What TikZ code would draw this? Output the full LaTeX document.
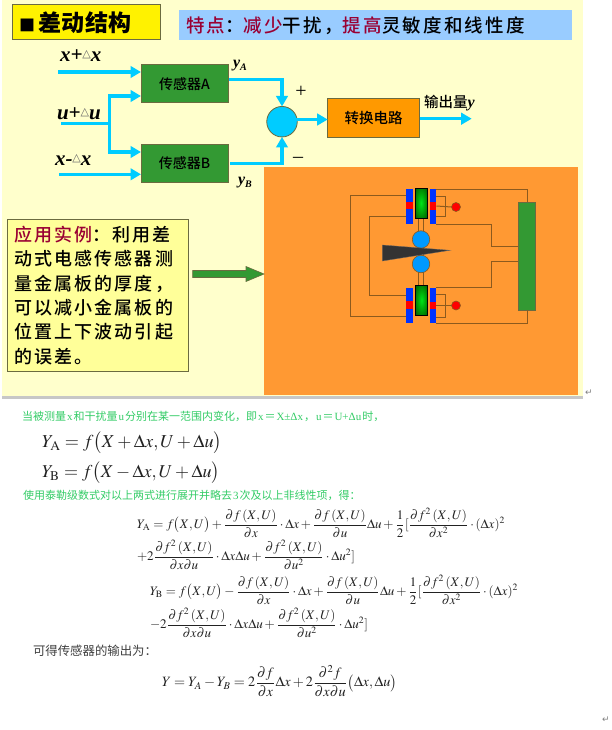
\documentclass[tikz,border=0pt]{standalone}
\usepackage{amsmath}
\usepackage{graphicx}
\usepackage{mathptmx}
\usepackage[no-math]{fontspec}
\usetikzlibrary{arrows.meta,calc}
\newfontfamily\cjk{Noto Sans CJK SC}
\newfontfamily\cjksp[LetterSpace=12]{Noto Sans CJK SC Medium}
\newfontfamily\cjkm{Noto Sans CJK SC Medium}
\newfontfamily\dejavu{DejaVu Sans}
\newfontfamily\lserif{Liberation Serif}
\newcommand{\fs}[1]{\fontsize{#1}{#1}\selectfont}
\newcommand{\fwcomma}{^^^^ff0c}
\newcommand{\fwcolon}{^^^^ff1a}
\newcommand{\fwequal}{^^^^ff1d}
\newcommand{\lat}[1]{\kern1pt{\lserif #1}\kern1pt}
\definecolor{bgy}{HTML}{FFFFCC}
\definecolor{flowc}{HTML}{00CCFF}
\definecolor{grn}{HTML}{339933}
\definecolor{org}{HTML}{FF9933}
\definecolor{wirec}{HTML}{8C5A1E}
\definecolor{dred}{HTML}{990033}
\definecolor{pblue}{HTML}{0033FF}
\definecolor{ballc}{HTML}{0099FF}
\definecolor{gtext}{HTML}{33CC66}
\definecolor{eqc}{HTML}{222222}
\definecolor{edge}{HTML}{6B6B40}
\definecolor{featc}{HTML}{99CCFF}
\definecolor{convc}{HTML}{FF9900}
\definecolor{callc}{HTML}{FFFF99}
\pgfdeclareradialshading{coreglow}{\pgfpoint{0bp}{0bp}}{rgb(0bp)=(0,.9,.1); rgb(16bp)=(0,.65,.03); rgb(38bp)=(0,.32,0); rgb(50bp)=(0,.03,0)}
\tikzset{
  every node/.style={outer sep=0pt},
  flow/.style={draw=flowc,line width=3.5pt,-{Triangle[length=10.5pt,width=11.5pt]}},
  plainflow/.style={draw=flowc,line width=3.5pt},
  sensor/.style={draw=edge,line width=1pt,fill=grn,minimum width=87pt,minimum height=37.5pt,font=\cjkm\fs{14}},
  inlabel/.style={font=\lserif\bfseries\itshape\fs{21},anchor=west,inner sep=0pt},
  wire/.style={draw=wirec,line width=1pt},
  plate/.style={draw=none,fill=pblue},
  redpad/.style={draw=none,fill=red},
  core/.style={draw=black,line width=1pt,shading=coreglow},
  ball/.style={circle,draw=wirec,line width=.6pt,fill=ballc,minimum size=17.5pt,inner sep=0pt},
  lamp/.style={circle,draw=wirec,line width=.6pt,fill=red,minimum size=9pt,inner sep=0pt},
  eq/.style={anchor=west,inner sep=0pt,text=eqc},
  note/.style={anchor=west,inner sep=0pt,text=gtext,font=\cjk\fs{11}},
  retmark/.style={inner sep=0pt,text=gray,font=\dejavu\fs{9}},
}
\newcommand{\smalltri}{\raisebox{4pt}{\dejavu\mdseries\upshape\fs{11}\textcolor{black!60}{△}}}
\begin{document}
\begin{tikzpicture}[x=1pt,y=-1pt]
\useasboundingbox (0,0) rectangle (611,730);
\fill[white] (0,0) rectangle (611,730);
\fill[bgy] (2,0) rectangle (583,396);
\fill[black!22] (2,396) rectangle (583,399);
\fill[org] (264,167) rectangle (578,395);

% title boxes
\node[draw=edge,line width=1pt,fill=yellow,minimum height=35pt,anchor=north west,font=\cjk\bfseries\fs{23},inner xsep=7pt,inner ysep=0pt,text width=134pt,align=left] (title) at (12,5) {{\fs{16}■}\hspace{4pt}差动结构};
\node[fill=featc,minimum width=393pt,minimum height=30.5pt,anchor=north west,inner sep=0pt] (feat) at (179,10) {};
\node[anchor=west,inner sep=0pt,font=\cjksp\fs{18.5}] (feattext) at (186,25.5) {\textcolor{dred}{特点}\fwcolon\textcolor{dred}{减少}干扰\fwcomma\textcolor{dred}{提高}灵敏度和线性度};

% block diagram
\node[sensor,anchor=north west] (A) at (141,65) {传感器A};
\node[sensor,anchor=north west] (B) at (141,144.5) {传感器B};
\node[circle,draw=edge,line width=.8pt,fill=flowc,minimum size=30.5pt,inner sep=0pt] (sum) at (282,121.7) {};
\node[draw=edge,line width=1pt,fill=convc,minimum width=92pt,minimum height=39pt,anchor=north west,font=\cjkm\fs{14.5}] (conv) at (327.7,98.7) {转换电路};

\coordinate (inx) at (58,72);
\coordinate (inu) at (61,123.7);
\coordinate (inxm) at (59,174.3);
\coordinate (j) at (109.5,123.7);
\coordinate (jt) at (109.5,96);
\coordinate (jb) at (109.5,152);
\coordinate (oa) at (229,79.7);
\coordinate (ob) at (230,163.7);
\coordinate (s0) at (296,119.5);
\coordinate (oc) at (471.7,118.7);
\draw[flow] (inx) -- (inx -| A.west);
\draw[flow] (inxm) -- (inxm -| B.west);
\draw[plainflow] (inu) -- (j);
\draw[flow] (j) |- (jt -| A.west);
\draw[flow] (j) |- (jb -| B.west);
\draw[flow] (oa) -| (sum.north);
\draw[flow] (ob) -| (sum.south);
\draw[flow] (s0) -- (s0 -| conv.west);
\draw[flow] (conv.east |- oc) -- (oc);

\node[inlabel] (lx) at (60,56) {x+\smalltri x};
\node[inlabel] (lu) at (57,114) {u+\smalltri u};
\node[inlabel] (lxm) at (55,160) {x-\smalltri x};
\node[anchor=west,inner sep=0pt,font=\lserif\bfseries\itshape\fs{16}] (ya) at (233,66) {y\raisebox{-3pt}{\fs{10}A}};
\node[anchor=west,inner sep=0pt,font=\lserif\bfseries\itshape\fs{16}] (yb) at (238,183) {y\raisebox{-3pt}{\fs{10}B}};
\node[inner sep=0pt,font=\lserif\fs{20}] (plus) at (301,92) {+};
\node[inner sep=0pt,font=\lserif\fs{20}] (minus) at (298,160) {–};
\node[anchor=west,inner sep=0pt,font=\cjkm\fs{14.5}] (outl) at (424,103) {输出量{\lserif\bfseries\itshape\fs{16}y}};

% application box
\node[draw=edge,line width=1pt,fill=callc,minimum height=151.5pt,anchor=north west,text width=167pt,inner sep=7pt,align=left,font=\cjksp\fontsize{18}{24.4}\selectfont] (call) at (7,219)
 {\textcolor{dred}{应用实例}\fwcolon 利用差\\动式电感传感器测\\量金属板的厚度\fwcomma\\可以减小金属板的\\位置上下波动引起\\的误差。};
\draw[draw=edge,line width=.6pt,fill=grn] (192.7,270.5) -- (246,270.5) -- (246,266.5) -- (264,274) -- (246,281.5) -- (246,277.5) -- (192.7,277.5) -- cycle;

% sensor cut-away
\node[draw=edge,line width=.8pt,fill=grn,minimum width=17.4pt,minimum height=107.7pt,anchor=north west,inner sep=0pt] (conv2) at (518.3,202.3) {};
\draw[wire] (406.3,195.7) -- (350,195.7) -- (350,316.7) -- (406.3,316.7);
\draw[wire] (406.3,216.7) -- (369,216.7) -- (369,295) -- (406.3,295);
\draw[wire] (436.3,189) -| (527,202.3);
\draw[wire] (436.3,323.5) -| (527,310);
\draw[wire] (436.3,224) -- (491,224) -- (491,246) -- (518.3,246);
\draw[wire] (436.3,287.5) -- (491,287.5) -- (491,261.7) -- (518.3,261.7);
\draw[wire] (436.3,196) -- (445.5,196) -- (445.5,216.7) -- (436.3,216.7);
\draw[wire] (436.3,294) -- (445.5,294) -- (445.5,317) -- (436.3,317);
\node[lamp] (lampt) at (456,207) {};
\node[lamp] (lampb) at (456,305.5) {};
\draw[wire] (436.3,206) -- (lampt.west);
\draw[wire] (436.3,305.5) -- (lampb.west);
% rods
\draw[wire] (418.7,218) -- (418.7,285.3);
\draw[wire] (423.7,218) -- (423.7,285.3);
% plates
\fill[plate] (406.3,188.7) rectangle (412.7,224);
\fill[plate] (430,188.7) rectangle (436.3,224);
\fill[plate] (406.3,288) rectangle (412.7,323);
\fill[plate] (430,288) rectangle (436.3,323);
\fill[redpad] (406.3,201.7) rectangle (412.7,209.3);
\fill[redpad] (430,202) rectangle (436.3,210);
\fill[redpad] (406.3,301) rectangle (412.7,309);
\fill[redpad] (430,301.5) rectangle (436.3,309);
\draw[core] (415,188) rectangle (427,218);
\draw[core] (415.5,285.3) rectangle (427.5,315);
\node[ball] (ballt) at (421,239.5) {};
\node[ball] (ballb) at (421,264) {};
\fill[black!80,draw=black!60,line width=.3pt] (382.3,245) -- (450,250.3) -- (382.3,261) -- cycle;

% notes
\node[note] (n1) at (22,416) {当被测量\lat{x}和干扰量\lat{u}分别在某一范围内变化\fwcomma 即\lat{x}\fwequal\lat{X±Δx}\fwcomma \lat{u}\fwequal\lat{U+Δu}时\fwcomma};
\node[note] (n2) at (23,495) {使用泰勒级数式对以上两式进行展开并略去\lat{3}次及以上非线性项\fwcomma 得\fwcolon};
\node[anchor=west,inner sep=0pt,text=black!75,font=\cjk\fs{12.4}] (n3) at (33,651) {可得传感器的输出为\fwcolon};

% equations
\node[eq] (e1) at (42,443) {\resizebox{180pt}{!}{$Y_{\mathrm A}=f\bigl(X+\Delta x,U+\Delta u\bigr)$}};
\node[eq] (e2) at (42,473) {\resizebox{178pt}{!}{$Y_{\mathrm B}=f\bigl(X-\Delta x,U+\Delta u\bigr)$}};
\node[eq] (e3) at (137,523) {\resizebox{368pt}{!}{$Y_{\mathrm A}=f\bigl(X,U\bigr)+\dfrac{\partial f\left(X,U\right)}{\partial x}\cdot\Delta x+\dfrac{\partial f\left(X,U\right)}{\partial u}\Delta u+\dfrac12[\dfrac{\partial f^{2}\left(X,U\right)}{\partial x^{2}}\cdot(\Delta x)^{2}$}};
\node[eq] (e4) at (137,555) {\resizebox{218pt}{!}{$+2\dfrac{\partial f^{2}\left(X,U\right)}{\partial x\partial u}\cdot\Delta x\Delta u+\dfrac{\partial f^{2}\left(X,U\right)}{\partial u^{2}}\cdot\Delta u^{2}]$}};
\node[eq] (e5) at (150,590) {\resizebox{368pt}{!}{$Y_{\mathrm B}=f\bigl(X,U\bigr)-\dfrac{\partial f\left(X,U\right)}{\partial x}\cdot\Delta x+\dfrac{\partial f\left(X,U\right)}{\partial u}\Delta u+\dfrac12[\dfrac{\partial f^{2}\left(X,U\right)}{\partial x^{2}}\cdot(\Delta x)^{2}$}};
\node[eq] (e6) at (150,623) {\resizebox{218pt}{!}{$-2\dfrac{\partial f^{2}\left(X,U\right)}{\partial x\partial u}\cdot\Delta x\Delta u+\dfrac{\partial f^{2}\left(X,U\right)}{\partial u^{2}}\cdot\Delta u^{2}]$}};
\node[eq] (e7) at (162,681) {\resizebox{235pt}{!}{$Y=Y_{A}-Y_{B}=2\dfrac{\partial f}{\partial x}\Delta x+2\dfrac{\partial^{2}f}{\partial x\partial u}\bigl(\Delta x,\Delta u\bigr)$}};

\node[retmark] (r1) at (589,393) {↵};
\node[retmark] (r2) at (606,720) {↵};
\end{tikzpicture}
\end{document}
